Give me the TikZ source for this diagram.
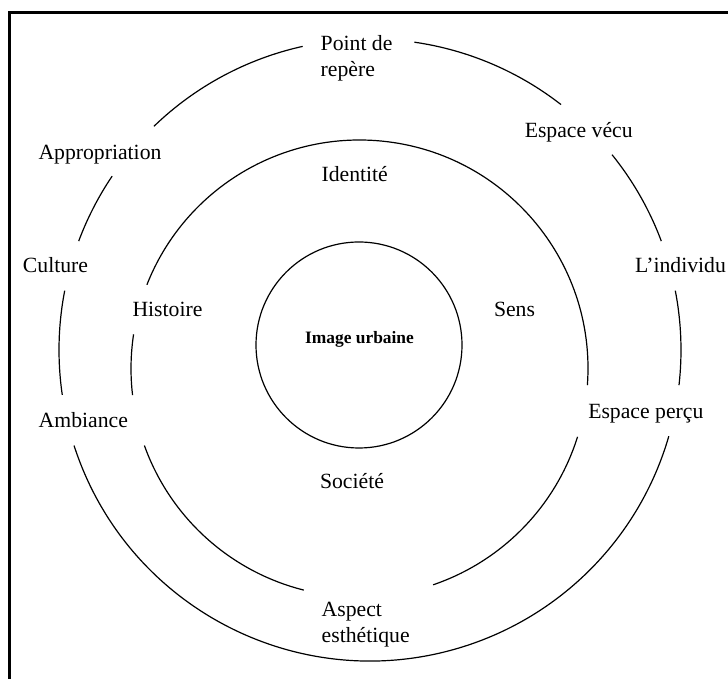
\documentclass[tikz,border=0pt]{standalone}
\usepackage{fontspec}
\setmainfont{Liberation Serif}
\usepackage{tikz}

\begin{document}
\begin{tikzpicture}[
            x = 0.5pt,
            y = 0.5pt,
            ring/.style = {
                line width = 0.6pt
            },
            word/.style = {
                font = \fontsize{10.85pt}{13pt}\selectfont,
                inner sep = 0pt,
                outer sep = 0pt,
                anchor = base
            },
            block/.style = {
                word,
                align = left,
                anchor = north west
            },
            title/.style = {
                word,
                font = \fontsize{8.7pt}{10pt}\selectfont\bfseries
            }
            ]
            \useasboundingbox (0,0) rectangle (728,679);
            \draw[line width = 1.2pt] (9.5,0) |- (728,666.3);

            \coordinate (outer) at (370,329);
            \coordinate (middle) at (359.5,310.5);
            \coordinate (core) at (359,334);

            % outer ring, broken where its words sit
            \foreach \s/\e in {-6.5/11, 20.5/38.9, 52.1/81.8, 102.5/134, 146/159.5, 169/188.3, 197.9/343.9}
                \draw[ring] (outer) ++(\s:311) arc[start angle=\s, end angle=\e, radius=311];
            % middle ring
            \foreach \s/\e in {-4.2/158.5, 171.4/186.7, 199.7/255.9, 288.8/342.6}
                \draw[ring] (middle) ++(\s:228.5) arc[start angle=\s, end angle=\e, radius=228.5];
            \draw[ring] (core) circle[radius=103];

            \node[title] (image) at (359.5,335.7) {Image urbaine};

            \node[word] (identite) at (354.7,497.3) {Identité};
            \node[word] (histoire) at (167.5,362.3) {Histoire};
            \node[word] (sens) at (514.5,362.3) {Sens};
            \node[word] (societe) at (352,190) {Société};

            \node[block] (repere) at (320.7,644) {Point de\\repère};
            \node[word] (vecu) at (578.7,541.7) {Espace vécu};
            \node[word] (appropriation) at (100,519.7) {Appropriation};
            \node[word] (culture) at (55.5,406.3) {Culture};
            \node[word, anchor=base west] (individu) at (635,406.3) {L’individu};
            \node[word] (ambiance) at (83.3,251.7) {Ambiance};
            \node[word] (percu) at (645.8,260.7) {Espace perçu};
            \node[block] (aspect) at (321.7,77) {Aspect\\esthétique};
        \end{tikzpicture}
\end{document}
